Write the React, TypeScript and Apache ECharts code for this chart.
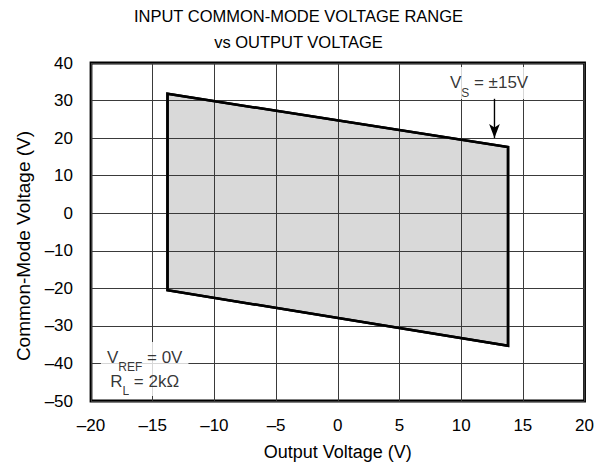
import React, { useEffect, useRef } from "react";
import * as echarts from "echarts";

const titleLines = ["INPUT COMMON-MODE VOLTAGE RANGE", "vs OUTPUT VOLTAGE"];
const xName = "Output Voltage (V)";
const yName = "Common-Mode Voltage (V)";

const xMin = -20;
const xMax = 20;
const xStep = 5;
const yMin = -50;
const yMax = 40;
const yStep = 10;

// Operating region outline (output voltage, common-mode voltage)
const regionX = [-13.8, 13.8, 13.8, -13.8];
const regionY = [31.8, 17.6, -35.3, -20.5];

// Arrow from label to the upper boundary
const arrowX = [12.7, 12.7];
const arrowY = [30.7, 20.0];

// Annotation anchor points
const vsLabelPos = [12.26, 34.7];
const condLabelPos = [-15.65, -41.5];

const FONT = "'Liberation Sans', Arial, Helvetica, sans-serif";

const fmt = (v: number) => (v < 0 ? "\u2013" + Math.abs(v) : String(v));

export default function App() {
  const ref = useRef<HTMLDivElement>(null);
  useEffect(() => {
    if (!ref.current) return;
    document.body.style.margin = "0";
    document.body.style.overflow = "hidden";
    const chart = echarts.init(ref.current, undefined, { renderer: "svg" });
    const regionData = regionX.map((x, i) => [x, regionY[i]]);
    const richBase = {
      n: { fontSize: 17, fontFamily: FONT, color: "#000", lineHeight: 24 },
      s: { fontSize: 12, fontFamily: FONT, color: "#000", lineHeight: 24, verticalAlign: "bottom" as const, padding: [0, 0, -4, 0] },
    };
    chart.setOption({
      animation: false,
      backgroundColor: "#fff",
      title: {
        text: titleLines.join("\n"),
        left: "center",
        top: 3,
        padding: 0,
        textStyle: { fontFamily: FONT, fontSize: 16.5, fontWeight: "normal", color: "#000", lineHeight: 26 },
      },
      grid: {
        left: 91,
        right: 9,
        top: 63,
        bottom: 65,
        show: true,
        borderColor: "#000",
        borderWidth: 2.8,
        backgroundColor: "transparent",
      },
      xAxis: {
        type: "value",
        min: xMin,
        max: xMax,
        interval: xStep,
        z: 3,
        name: xName,
        nameLocation: "middle",
        nameGap: 42,
        nameTextStyle: { fontFamily: FONT, fontSize: 18, color: "#000" },
        axisLine: { show: false },
        axisTick: { show: false },
        axisLabel: { formatter: fmt, fontFamily: FONT, fontSize: 17, color: "#000", margin: 16 },
        splitLine: { show: true, lineStyle: { color: "#3a3a3a", width: 1 } },
      },
      yAxis: {
        type: "value",
        min: yMin,
        max: yMax,
        interval: yStep,
        z: 3,
        name: yName,
        nameLocation: "middle",
        nameGap: 58,
        nameTextStyle: { fontFamily: FONT, fontSize: 19, color: "#000", padding: [0, 28, 0, 0] },
        axisLine: { show: false },
        axisTick: { show: false },
        axisLabel: { formatter: fmt, fontFamily: FONT, fontSize: 17, color: "#000", margin: 18 },
        splitLine: { show: true, lineStyle: { color: "#3a3a3a", width: 1 } },
      },
      series: [
        {
          type: "custom",
          z: 2,
          data: regionData,
          renderItem: (params: any, api: any) => {
            if (params.dataIndex !== 0) return null;
            const pts = regionData.map((p) => api.coord(p));
            return {
              type: "polygon",
              shape: { points: pts },
              style: { fill: "#d9d9d9", stroke: "#000", lineWidth: 2.5 },
            };
          },
        },
        {
          type: "custom",
          z: 4,
          data: regionData,
          renderItem: (params: any, api: any) => {
            if (params.dataIndex !== 0) return null;
            const pts = regionData.map((p) => api.coord(p));
            return {
              type: "polygon",
              shape: { points: pts },
              style: { fill: "none", stroke: "#000", lineWidth: 2.5 },
            };
          },
        },
        {
          type: "line",
          z: 6,
          data: arrowX.map((x, i) => [x, arrowY[i]]),
          symbol: "none",
          lineStyle: { color: "#000", width: 1.2 },
          markLine: {
            silent: true,
            symbol: ["none", "arrow"],
            symbolSize: [8, 14],
            label: { show: false },
            lineStyle: { color: "#000", width: 1.2, type: "solid" },
            data: [[{ coord: [arrowX[0], arrowY[0]] }, { coord: [arrowX[1], arrowY[1]] }]],
          },
        },
        {
          type: "scatter",
          z: 7,
          symbolSize: 1,
          itemStyle: { color: "rgba(0,0,0,0)" },
          data: [vsLabelPos],
          label: {
            show: true,
            position: "inside",
            formatter: "{n|V}{s|S}{n| = \u00b115V}",
            backgroundColor: "#fff",
            padding: [4, 8, 4, 8],
            rich: richBase,
          },
        },
        {
          type: "scatter",
          z: 7,
          symbolSize: 1,
          itemStyle: { color: "rgba(0,0,0,0)" },
          data: [condLabelPos],
          label: {
            show: true,
            position: "inside",
            align: "center",
            formatter: "{n|V}{s|REF}{n| = 0V}\n{n|R}{s|L}{n| = 2k\u03a9}",
            backgroundColor: "#fff",
            padding: [3, 6, 3, 6],
            rich: richBase,
          },
        },
      ],
    });
    return () => chart.dispose();
  }, []);
  return (
    <div
      ref={ref}
      style={{ position: "absolute", left: 0, top: 0, width: 597, height: 466 }}
    />
  );
}
